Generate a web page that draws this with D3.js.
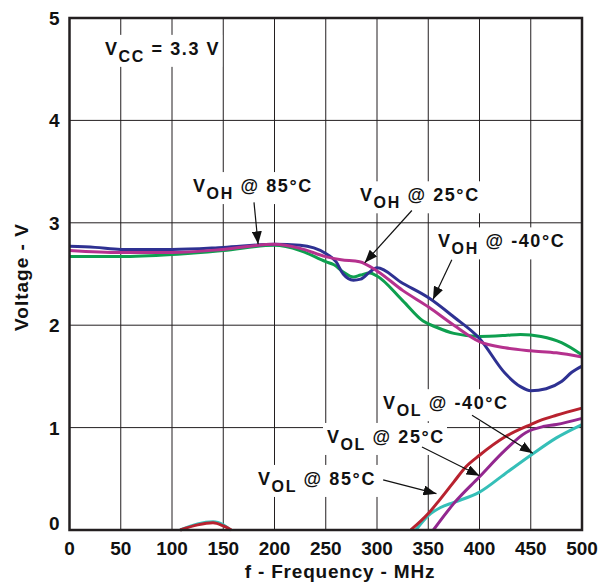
<!DOCTYPE html>
<html>
<head>
<meta charset="utf-8">
<script src="https://cdn.jsdelivr.net/npm/d3@7"></script>
<style>
  body { margin: 0; background: #fff; }
  text { font-family: "Liberation Sans", Arial, sans-serif; font-weight: bold; fill: #111; }
</style>
</head>
<body>
<div id="chart"></div>
<script>
// tick values
const xTicks = [0, 50, 100, 150, 200, 250, 300, 350, 400, 450, 500];
const yTicks = [0, 1, 2, 3, 4, 5];

// VOH curves, [frequency MHz, volts]
const vohM40 = [[0, 2.77], [25, 2.76], [50, 2.74], [100, 2.74], [150, 2.76], [200, 2.79], [225, 2.78],
  [250, 2.70], [260, 2.62], [267, 2.50], [277, 2.44], [284, 2.45], [293, 2.52], [300, 2.56],
  [325, 2.41], [350, 2.27], [375, 2.08], [400, 1.87], [425, 1.53], [440, 1.40], [450, 1.36],
  [465, 1.38], [480, 1.45], [490, 1.54], [500, 1.60]];
const voh25 = [[0, 2.73], [50, 2.71], [100, 2.71], [150, 2.74], [200, 2.79], [225, 2.75],
  [250, 2.67], [265, 2.64], [283, 2.62], [300, 2.53], [325, 2.34], [350, 2.18], [375, 2.00],
  [400, 1.84], [425, 1.78], [450, 1.75], [475, 1.73], [500, 1.69]];
const voh85 = [[0, 2.67], [50, 2.67], [100, 2.69], [150, 2.73], [200, 2.78], [225, 2.73],
  [250, 2.62], [258, 2.59], [267, 2.52], [277, 2.47], [284, 2.49], [293, 2.51], [300, 2.48],
  [325, 2.24], [345, 2.04], [358, 1.98], [375, 1.92], [400, 1.89], [425, 1.90], [440, 1.91],
  [460, 1.89], [480, 1.83], [500, 1.71]];

// VOL curves (two pieces each where the line leaves the axis)
const volM40a = [[108, 0], [125, 0.06], [140, 0.08], [150, 0.05], [157, 0]];
const volM40b = [[338, 0], [350, 0.14], [362, 0.22], [375, 0.27], [400, 0.37], [425, 0.55],
  [450, 0.73], [475, 0.90], [500, 1.03]];
const vol25 = [[355, 0], [375, 0.26], [400, 0.52], [425, 0.78], [445, 0.95], [462, 1.01],
  [475, 1.03], [500, 1.09]];
const vol85a = [[108, 0], [125, 0.05], [140, 0.07], [150, 0.04], [158, 0]];
const vol85b = [[333, 0], [350, 0.16], [360, 0.28], [375, 0.47], [387, 0.62], [400, 0.73],
  [425, 0.91], [450, 1.03], [462, 1.08], [475, 1.12], [500, 1.19]];

const series = [
  { data: volM40a, color: '#35bfb8' },
  { data: vol85a, color: '#b8222f' },
  { data: volM40b, color: '#35bfb8' },
  { data: vol25, color: '#93278f' },
  { data: vol85b, color: '#b8222f' },
  { data: voh85, color: '#0e9f4f' },
  { data: vohM40, color: '#2e3192' },
  { data: voh25, color: '#b5318e' }
];

// callouts: text position, arrow start, arrow tip (data units)
const labels = [
  { main: 'V', sub: 'CC', rest: ' = 3.3 V', at: [34.6, 4.64] },
  { main: 'V', sub: 'OH', rest: ' @ 85°C', at: [120.5, 3.30], from: [180, 3.20], to: [184, 2.79] },
  { main: 'V', sub: 'OH', rest: ' @ 25°C', at: [283.4, 3.21], from: [334, 3.12], to: [288, 2.61] },
  { main: 'V', sub: 'OH', rest: ' @ -40°C', at: [359.5, 2.76], from: [373, 2.64], to: [354.6, 2.25] },
  { main: 'V', sub: 'OL', rest: ' @ -40°C', at: [305.9, 1.18], from: [392.7, 1.12], to: [452, 0.75] },
  { main: 'V', sub: 'OL', rest: ' @ 25°C', at: [251.2, 0.85], from: [343.9, 0.81], to: [400, 0.53] },
  { main: 'V', sub: 'OL', rest: ' @ 85°C', at: [183.9, 0.44], from: [306, 0.49], to: [358, 0.355] }
];

const W = 603, H = 582;
const margin = { top: 18, right: 21, bottom: 52, left: 69.5 };

const svg = d3.select('#chart').append('svg')
  .attr('width', W)
  .attr('height', H);

const x = d3.scaleLinear().domain([0, 500]).range([margin.left, W - margin.right]);
const y = d3.scaleLinear().domain([0, 5]).range([H - margin.bottom, margin.top]);

// grid
svg.append('g')
  .selectAll('line')
  .data(xTicks.slice(1, -1))
  .join('line')
  .attr('x1', d => x(d)).attr('x2', d => x(d))
  .attr('y1', y(0)).attr('y2', y(5))
  .attr('stroke', '#231f20').attr('stroke-width', 1);

svg.append('g')
  .selectAll('line')
  .data(yTicks.slice(1, -1))
  .join('line')
  .attr('x1', x(0)).attr('x2', x(500))
  .attr('y1', d => y(d)).attr('y2', d => y(d))
  .attr('stroke', '#231f20').attr('stroke-width', 1);

// curves
const line = d3.line()
  .x(d => x(d[0]))
  .y(d => y(d[1]))
  .curve(d3.curveMonotoneX);

svg.append('g')
  .selectAll('path')
  .data(series)
  .join('path')
  .attr('fill', 'none')
  .attr('stroke', d => d.color)
  .attr('stroke-width', 3)
  .attr('stroke-linejoin', 'round')
  .attr('d', d => line(d.data));

// frame
svg.append('rect')
  .attr('x', x(0)).attr('y', y(5))
  .attr('width', x(500) - x(0)).attr('height', y(0) - y(5))
  .attr('fill', 'none')
  .attr('stroke', '#231f20')
  .attr('stroke-width', 2.5);

// tick labels
svg.append('g')
  .selectAll('text')
  .data(xTicks)
  .join('text')
  .attr('x', d => x(d))
  .attr('y', y(0) + 25)
  .attr('text-anchor', 'middle')
  .style('font-size', '19px')
  .text(d => d);

svg.append('g')
  .selectAll('text')
  .data(yTicks)
  .join('text')
  .attr('x', x(0) - 10)
  .attr('y', d => y(d) + (d === 0 ? 0 : 7))
  .attr('text-anchor', 'end')
  .style('font-size', '19px')
  .text(d => d);

// axis titles
svg.append('text')
  .attr('x', 340)
  .attr('y', H - 4)
  .attr('text-anchor', 'middle')
  .style('font-size', '19px')
  .style('letter-spacing', '0.8px')
  .text('f - Frequency - MHz');

svg.append('text')
  .attr('transform', `translate(28,${y(2.47)}) rotate(-90)`)
  .attr('text-anchor', 'middle')
  .style('font-size', '19px')
  .style('letter-spacing', '1px')
  .text('Voltage - V');

// arrows
const defs = svg.append('defs');
defs.append('marker')
  .attr('id', 'head')
  .attr('markerUnits', 'userSpaceOnUse')
  .attr('viewBox', '0 0 13 10')
  .attr('refX', 13).attr('refY', 5)
  .attr('markerWidth', 13).attr('markerHeight', 10)
  .attr('orient', 'auto')
  .append('path')
  .attr('d', 'M0,0L13,5L0,10Z')
  .attr('fill', '#111');

const notes = svg.append('g');
labels.forEach(l => {
  const g = notes.append('g');
  const bg = g.append('rect').attr('fill', '#fff');
  const t = g.append('text')
    .attr('x', x(l.at[0]))
    .attr('y', y(l.at[1]))
    .style('font-size', '18px')
    .style('letter-spacing', '1.6px');
  t.append('tspan').text(l.main);
  t.append('tspan').attr('dy', 7).style('font-size', '16px').text(l.sub);
  t.append('tspan').attr('dy', -7).text(l.rest);
  const b = t.node().getBBox();
  bg.attr('x', b.x - 4).attr('y', b.y - 4)
    .attr('width', b.width + 6).attr('height', b.height + 6);
  if (l.from) {
    notes.append('line')
      .attr('x1', x(l.from[0])).attr('y1', y(l.from[1]))
      .attr('x2', x(l.to[0])).attr('y2', y(l.to[1]))
      .attr('stroke', '#111')
      .attr('stroke-width', 1.2)
      .attr('marker-end', 'url(#head)');
  }
});
</script>
</body>
</html>
